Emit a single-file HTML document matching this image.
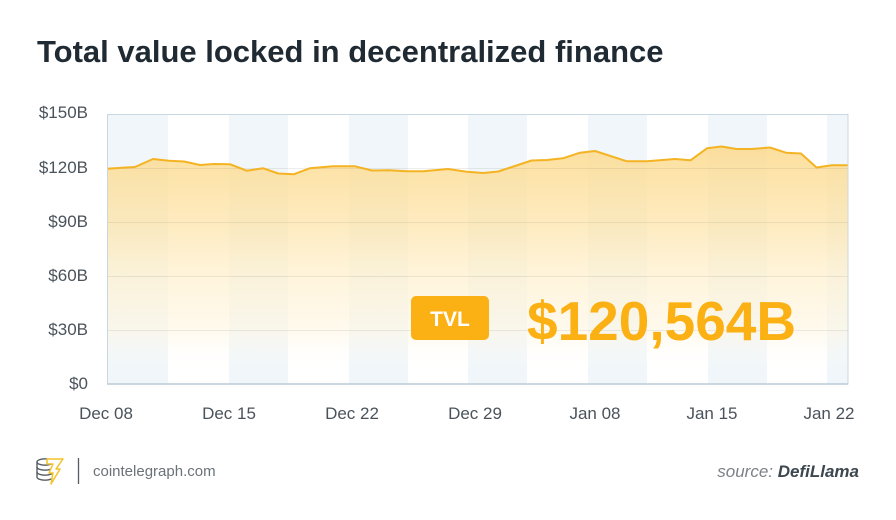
<!DOCTYPE html>
<html>
<head>
<meta charset="utf-8">
<style>
html,body{margin:0;padding:0;background:#fff;}
body{width:896px;height:520px;overflow:hidden;position:relative;font-family:"Liberation Sans",Arial,sans-serif;}
svg{position:absolute;left:0;top:0;}
</style>
</head>
<body>
<svg width="896" height="520" viewBox="0 0 896 520" xmlns="http://www.w3.org/2000/svg">
  <defs>
    <linearGradient id="fillg" x1="0" y1="150" x2="0" y2="372" gradientUnits="userSpaceOnUse">
      <stop offset="0" stop-color="#fcd98a" stop-opacity="0.82"/>
      <stop offset="0.33" stop-color="#fee4aa" stop-opacity="0.75"/>
      <stop offset="0.57" stop-color="#fff0cc" stop-opacity="0.7"/>
      <stop offset="0.81" stop-color="#fff6e2" stop-opacity="0.6"/>
      <stop offset="1" stop-color="#ffffff" stop-opacity="0"/>
    </linearGradient>
  </defs>

  <!-- Title -->
  <text x="37" y="62" font-family="Liberation Sans, Arial, sans-serif" font-weight="bold" font-size="31" fill="#1f2a33">Total value locked in decentralized finance</text>

  <!-- bands -->
  <g fill="#f0f6f9">
    <rect x="107" y="114" width="61" height="270"/>
    <rect x="229" y="114" width="59" height="270"/>
    <rect x="349" y="114" width="59" height="270"/>
    <rect x="468" y="114" width="59" height="270"/>
    <rect x="588" y="114" width="59" height="270"/>
    <rect x="708" y="114" width="59" height="270"/>
    <rect x="827" y="114" width="21" height="270"/>
  </g>

  <!-- area -->
  <path fill="url(#fillg)" d="M107,168.7 L135,167 L153,159 L169,160.7 L184,161.5 L200,165 L214,164 L230,164.2 L246.7,170.7 L263.3,168.3 L278.3,173.5 L294,174.2 L310,168.2 L333,166.3 L355,166.3 L372,170.5 L389,170.2 L406.7,171.3 L423.3,171.3 L448,169 L466.7,171.7 L483.5,173 L498.3,171.5 L515,166 L531.5,160.5 L547,160 L563,158.3 L580,152.7 L595,151 L626.5,161.2 L647,161.2 L675,159 L690.5,160.3 L707,148.3 L721.5,146.5 L736.5,149 L751.5,149 L770,147.5 L786,152.7 L801,153.5 L816.5,167.5 L832,165.2 L848,165.2 L848,384 L107,384 Z"/>

  <!-- gridlines -->
  <g stroke="#000" stroke-opacity="0.07" stroke-width="1">
    <line x1="107" y1="168.5" x2="848" y2="168.5"/>
    <line x1="107" y1="222.5" x2="848" y2="222.5"/>
    <line x1="107" y1="276.5" x2="848" y2="276.5"/>
    <line x1="107" y1="330.5" x2="848" y2="330.5"/>
  </g>

  <path fill="none" stroke="#f4b323" stroke-width="2" stroke-linejoin="round" d="M107,168.7 L135,167 L153,159 L169,160.7 L184,161.5 L200,165 L214,164 L230,164.2 L246.7,170.7 L263.3,168.3 L278.3,173.5 L294,174.2 L310,168.2 L333,166.3 L355,166.3 L372,170.5 L389,170.2 L406.7,171.3 L423.3,171.3 L448,169 L466.7,171.7 L483.5,173 L498.3,171.5 L515,166 L531.5,160.5 L547,160 L563,158.3 L580,152.7 L595,151 L626.5,161.2 L647,161.2 L675,159 L690.5,160.3 L707,148.3 L721.5,146.5 L736.5,149 L751.5,149 L770,147.5 L786,152.7 L801,153.5 L816.5,167.5 L832,165.2 L848,165.2"/>

  <!-- border -->
  <rect x="107.5" y="114.5" width="740.5" height="269.5" fill="none" stroke="#c9d8e0" stroke-width="1"/>
  <line x1="107" y1="384" x2="848" y2="384" stroke="#bccbd5" stroke-width="1.5"/>

  <!-- y labels -->
  <g font-family="Liberation Sans, Arial, sans-serif" font-size="17" fill="#4a535b" text-anchor="end">
    <text x="88" y="118">$150B</text>
    <text x="88" y="173">$120B</text>
    <text x="88" y="227">$90B</text>
    <text x="88" y="281">$60B</text>
    <text x="88" y="335">$30B</text>
    <text x="88" y="389">$0</text>
  </g>

  <!-- x labels -->
  <g font-family="Liberation Sans, Arial, sans-serif" font-size="17" fill="#4a535b" text-anchor="middle">
    <text x="106" y="419">Dec 08</text>
    <text x="229" y="419">Dec 15</text>
    <text x="352" y="419">Dec 22</text>
    <text x="475" y="419">Dec 29</text>
    <text x="595" y="419">Jan 08</text>
    <text x="712" y="419">Jan 15</text>
    <text x="829" y="419">Jan 22</text>
  </g>

  <!-- TVL badge -->
  <rect x="411" y="296" width="78" height="44" rx="5" ry="5" fill="#fbb014"/>
  <text x="450" y="326" font-family="Liberation Sans, Arial, sans-serif" font-weight="bold" font-size="21" fill="#ffffff" text-anchor="middle">TVL</text>
  <text x="527" y="340" font-family="Liberation Sans, Arial, sans-serif" font-weight="bold" font-size="55" fill="#fbb014">$120,564B</text>

  <!-- footer logo -->
  <g fill="none" stroke="#555d63" stroke-width="1.4">
    <ellipse cx="45" cy="462" rx="8" ry="3.2"/>
    <path d="M37,462 v5 a8,3.2 0 0 0 16,0"/>
    <path d="M37,467 v5 a8,3.2 0 0 0 16,0"/>
    <path d="M37,472 v5 a8,3.2 0 0 0 16,0"/>
  </g>
  <path d="M47,459 L63,459 L56,469 L60,469 L51,484 L53,473 L49,473 L53,464 L47,464 Z" fill="#ffffff" stroke="#f3c22c" stroke-width="1.5" stroke-linejoin="round"/>
  <line x1="78.5" y1="458" x2="78.5" y2="484" stroke="#555d63" stroke-width="1.3"/>
  <text x="93" y="476" font-family="Liberation Sans, Arial, sans-serif" font-size="15" fill="#6b7278">cointelegraph.com</text>

  <!-- source -->
  <text x="859" y="477" text-anchor="end" font-family="Liberation Sans, Arial, sans-serif" font-size="17" font-style="italic"><tspan fill="#7b8288">source: </tspan><tspan fill="#3d474f" font-weight="bold">DefiLlama</tspan></text>
</svg>
</body>
</html>
